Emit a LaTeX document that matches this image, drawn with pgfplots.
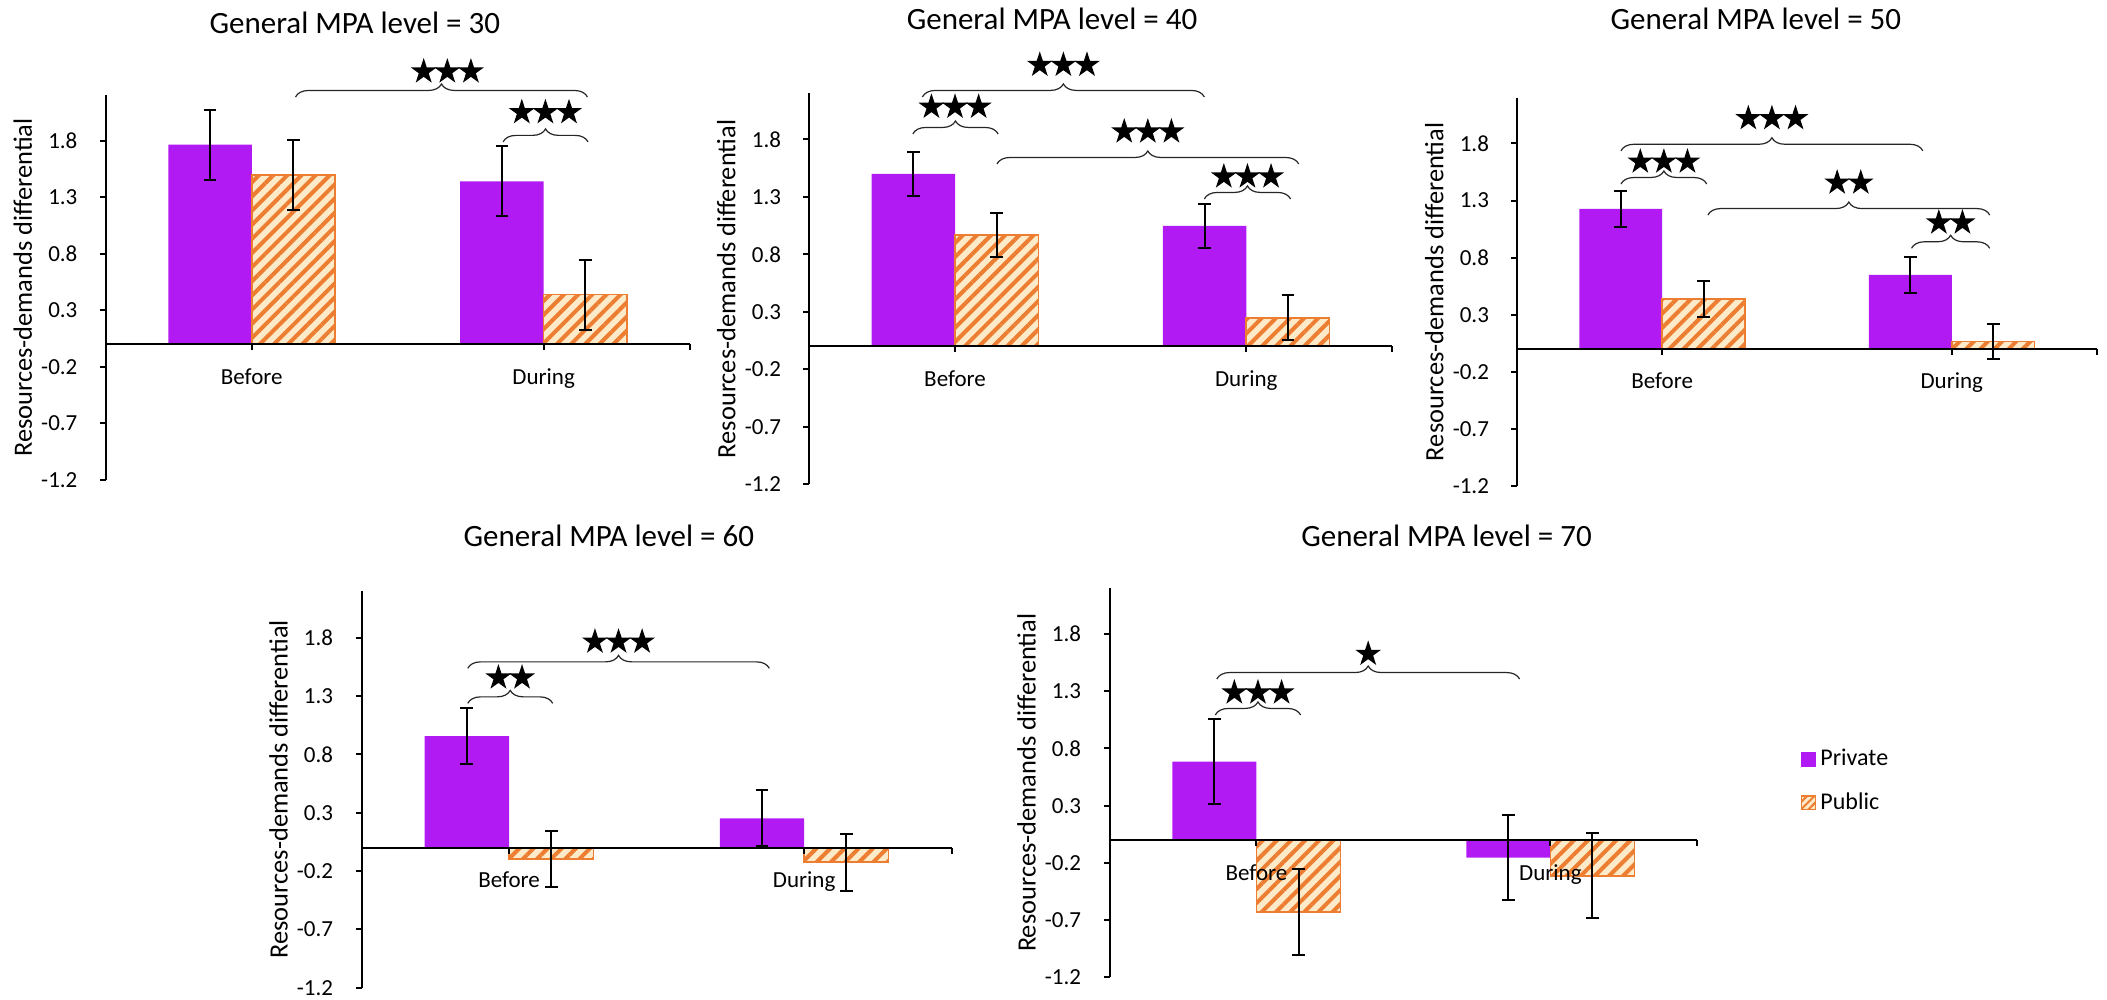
\documentclass[border=0pt]{standalone}
\usepackage{fontspec}
\setmainfont{Carlito}
\usepackage{pgfplots}
\pgfplotsset{compat=1.18}
\usetikzlibrary{patterns.meta, decorations.pathreplacing}

\definecolor{privpurple}{RGB}{178,26,244}
\definecolor{puborange}{RGB}{237,125,49}
\definecolor{pubcream}{RGB}{253,234,200}

\newcommand{\ticksize}{\fontsize{11.5}{13}\selectfont}
\newcommand{\legsize}{\fontsize{12}{14}\selectfont}
\newcommand{\titlesize}{\fontsize{15.5}{18}\selectfont}
\newcommand{\labsize}{\fontsize{13.2}{15}\selectfont}

% five-pointed significance star
\tikzset{sigstar/.pic={\fill[black] (90:6.8pt) -- (126:2.6pt) -- (162:6.8pt) -- (198:2.6pt) -- (234:6.8pt) -- (270:2.6pt) -- (306:6.8pt) -- (342:2.6pt) -- (18:6.8pt) -- (54:2.6pt) -- cycle;}}

% brace between two bars: #1 = left x, #2 = right x, #3 = height of the brace ends
\newcommand{\sigbrace}[3]{\draw[decorate, decoration={brace, amplitude=6.5pt}, line width=0.6pt, black!85] (axis cs:#1,#3) -- (axis cs:#2,#3);}
\newcommand{\onestar}[2]{\path (axis cs:#1,#2) pic {sigstar};}
\newcommand{\twostars}[2]{\path ([xshift=-5.9pt]axis cs:#1,#2) pic {sigstar} ([xshift=5.9pt]axis cs:#1,#2) pic {sigstar};}
\newcommand{\threestars}[2]{\path ([xshift=-11.8pt]axis cs:#1,#2) pic {sigstar} (axis cs:#1,#2) pic {sigstar} ([xshift=11.8pt]axis cs:#1,#2) pic {sigstar};}

\pgfplotsset{
  panel/.style={
    scale only axis, anchor=south west, clip=false, axis on top,
    xmin=-0.5, xmax=1.5, ymin=-1.2, ymax=2.2,
    axis x line=middle, axis y line=left,
    axis line style={-, line width=1pt, black},
    xtick={0,1,1.5}, xticklabels={Before,During,{}},
    ytick={-1.2,-0.7,-0.2,0.3,0.8,1.3,1.8},
    yticklabels={-1.2,-0.7,-0.2,0.3,0.8,1.3,1.8},
    tick align=outside, major tick length=3pt,
    every tick/.style={black, line width=1pt},
    xticklabel style={font=\ticksize, anchor=base, yshift=-17pt, inner sep=0pt},
    yticklabel style={font=\ticksize, anchor=east, inner sep=0pt, xshift=-11pt},
    ylabel={Resources-demands differential},
    every axis y label/.style={rotate=90, anchor=center, font=\labsize},
  },
  barbase/.style={ybar, bar width=0.286},
  privbar/.style={barbase, bar shift=-0.143, fill=privpurple, draw=none},
  pubbar/.style={barbase, bar shift=0.143, fill=pubcream, draw=puborange, line width=0.8pt,
    postaction={pattern color=puborange, pattern={Lines[angle=45, distance=5pt, line width=2pt]}}},
  % error bars sit on the centre of each bar (bars are offset by +-0.143)
  errs/.style={draw=none, mark=none, forget plot,
    x filter/.expression={x+#1},
    error bars/y dir=both, error bars/y explicit,
    error bars/error bar style={draw=black, line width=1pt},
    error bars/error mark options={draw=black, rotate=90, mark size=3.2pt, line width=1pt}},
}

\begin{document}
\begin{tikzpicture}[x=0.5pt, y=0.5pt]
\useasboundingbox (0,0) rectangle (2107,1000);

% ---------- General MPA level = 30 ----------
\node[anchor=base, font=\titlesize] at (354.8,966.7) {General MPA level = 30};
\begin{axis}[panel, at={(52.9pt,260pt)}, width=291.9pt, height=192.3pt,
  ylabel style={at={(axis description cs:-0.142,0.5)}}]
\addplot[privbar] coordinates {(0,1.765) (1,1.44)};
\addplot[pubbar] coordinates {(0,1.495) (1,0.439)};
\addplot[errs=-0.143] coordinates {(0,1.765) +- (0,0.31) (1,1.44) +- (0,0.31)};
\addplot[errs=0.143] coordinates {(0,1.495) +- (0,0.31) (1,0.439) +- (0,0.31)};
\sigbrace{0.15}{1.15}{2.186}
\threestars{0.67}{2.41}
\sigbrace{0.861}{1.152}{1.789}
\threestars{1.006}{2.05}
\end{axis}

% ---------- General MPA level = 40 ----------
\node[anchor=base, font=\titlesize] at (1052,970) {General MPA level = 40};
\begin{axis}[panel, at={(404.7pt,257.75pt)}, width=291.25pt, height=195.5pt,
  ylabel style={at={(axis description cs:-0.1425,0.5)}}]
\addplot[privbar] coordinates {(0,1.50) (1,1.048)};
\addplot[pubbar] coordinates {(0,0.967) (1,0.25)};
\addplot[errs=-0.143] coordinates {(0,1.50) +- (0,0.19) (1,1.048) +- (0,0.195)};
\addplot[errs=0.143] coordinates {(0,0.967) +- (0,0.19) (1,0.25) +- (0,0.195)};
\sigbrace{-0.145}{0.148}{1.848}
\threestars{0.0}{2.083}
\sigbrace{-0.112}{0.856}{2.17}
\threestars{0.372}{2.448}
\sigbrace{0.144}{1.18}{1.587}
\threestars{0.662}{1.868}
\sigbrace{0.856}{1.152}{1.283}
\threestars{1.004}{1.477}
\end{axis}

% ---------- General MPA level = 50 ----------
\node[anchor=base, font=\titlesize] at (1755.8,970.5) {General MPA level = 50};
\begin{axis}[panel, at={(758.65pt,257pt)}, width=289.65pt, height=194.1pt,
  ylabel style={at={(axis description cs:-0.1433,0.5)}}]
\addplot[privbar] coordinates {(0,1.226) (1,0.648)};
\addplot[pubbar] coordinates {(0,0.438) (1,0.064)};
\addplot[errs=-0.143] coordinates {(0,1.226) +- (0,0.155) (1,0.648) +- (0,0.156)};
\addplot[errs=0.143] coordinates {(0,0.438) +- (0,0.155) (1,0.064) +- (0,0.155)};
\sigbrace{-0.142}{0.154}{1.445}
\threestars{0.006}{1.64}
\sigbrace{-0.142}{0.90}{1.736}
\threestars{0.379}{2.02}
\sigbrace{0.158}{1.131}{1.173}
\twostars{0.645}{1.456}
\sigbrace{0.861}{1.131}{0.882}
\twostars{0.996}{1.106}
\end{axis}

% ---------- General MPA level = 60 ----------
\node[anchor=base, font=\titlesize] at (608.8,453.3) {General MPA level = 60};
\begin{axis}[panel, at={(180.75pt,6.15pt)}, width=295.1pt, height=198.35pt,
  ylabel style={at={(axis description cs:-0.1406,0.5)}}]
\addplot[privbar] coordinates {(0,0.957) (1,0.252)};
\addplot[pubbar] coordinates {(0,-0.097) (1,-0.125)};
\addplot[errs=-0.143] coordinates {(0,0.957) +- (0,0.243) (1,0.252) +- (0,0.24)};
\addplot[errs=0.143] coordinates {(0,-0.097) +- (0,0.243) (1,-0.125) +- (0,0.243)};
\sigbrace{-0.14}{0.148}{1.237}
\twostars{0.004}{1.457}
\sigbrace{-0.14}{0.882}{1.537}
\threestars{0.371}{1.765}
\end{axis}

% ---------- General MPA level = 70 (with legend) ----------
\node[anchor=base, font=\titlesize] at (1446.5,453.3) {General MPA level = 70};
\begin{axis}[panel, at={(554.75pt,11.35pt)}, width=293.95pt, height=194.5pt,
  ylabel style={at={(axis description cs:-0.1412,0.5)}},
  legend style={at={(axis description cs:1.1745,0.597)}, anchor=north west,
    draw=none, fill=none, inner sep=0pt, font=\legsize, row sep=8pt,
    legend cell align=left}]
\addlegendimage{legend image code/.code={\fill[privpurple] (0pt,-3.4pt) rectangle (7pt,3.4pt);}}
\addlegendentry{Private}
\addlegendimage{legend image code/.code={\draw[fill=pubcream, draw=puborange, line width=0.6pt,
  postaction={pattern color=puborange, pattern={Lines[angle=45, distance=2.6pt, line width=1pt]}}]
  (0pt,-3.4pt) rectangle (7pt,3.4pt);}}
\addlegendentry{Public}
\addplot[forget plot, privbar] coordinates {(0,0.684) (1,-0.155)};
\addplot[forget plot, pubbar] coordinates {(0,-0.627) (1,-0.312)};
\addplot[errs=-0.143] coordinates {(0,0.684) +- (0,0.373) (1,-0.155) +- (0,0.372)};
\addplot[errs=0.143] coordinates {(0,-0.627) +- (0,0.374) (1,-0.312) +- (0,0.372)};
\sigbrace{-0.14}{0.15}{1.093}
\threestars{0.005}{1.288}
\sigbrace{-0.135}{0.895}{1.407}
\onestar{0.38}{1.626}
\end{axis}
\end{tikzpicture}
\end{document}
